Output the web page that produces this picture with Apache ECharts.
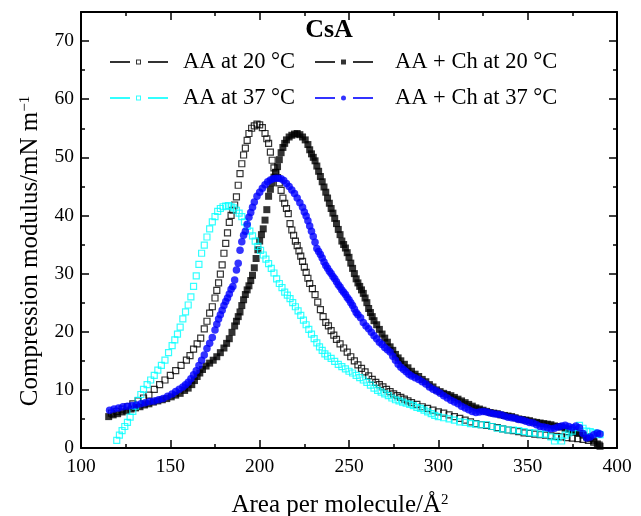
<!DOCTYPE html>
<html>
<head>
<meta charset="utf-8">
<script src="https://cdn.jsdelivr.net/npm/echarts@6/dist/echarts.min.js"></script>
<style>html,body{margin:0;padding:0;background:#fff}#c{width:641px;height:516px}</style>
</head>
<body>
<div id="c"></div>
<script>
const xTicks = [100, 150, 200, 250, 300, 350, 400];
const yTicks = [0, 10, 20, 30, 40, 50, 60, 70];
const seriesNames = ['AA at 20 °C', 'AA + Ch at 20 °C', 'AA at 37 °C', 'AA + Ch at 37 °C'];

const aa20 = [[117,6.0],[120,6.3],[123,6.7],[126,7.1],[129,7.6],[132,8.1],[135,8.6],[138,9.1],[141,10.1],[144,10.9],[147,11.7],[150,12.5],[153,13.3],[156,14.2],[159,15.1],[161,15.9],[163,17.0],[165,17.9],[167,18.9],[169,20.5],[170.5,21.8],[172,23.2],[173.5,24.3],[175,25.8],[176,27.1],[177,28.4],[178,29.9],[179,31.5],[180,33.5],[181,35.2],[182,37.0],[183,38.8],[184,40.0],[185,40.9],[186,41.8],[187,43.2],[188,45.2],[189,47.2],[190,48.9],[191,50.4],[192,51.6],[193,52.9],[194,54.1],[195.5,55.0],[197,55.4],[198.5,55.7],[200,55.6],[201.5,55.1],[203,54.1],[204,53.2],[205,52.4],[206,50.9],[207,49.5],[208,48.2],[209,47.4],[210,46.5],[211,45.6],[212,44.3],[213,43.0],[214,42.1],[215,41.2],[216,40.3],[217,38.6],[218,37.5],[219,36.6],[220,35.6],[221,34.8],[222,33.9],[223,33.0],[224,32.1],[225,31.1],[226,30.2],[227,29.2],[228,28.3],[229.5,27.4],[231,26.4],[232.5,25.1],[234,23.8],[235.5,22.6],[237,21.6],[238.5,21.0],[240,20.2],[241.5,19.4],[243,18.7],[245,17.9],[247,17.2],[249,16.5],[251,15.7],[253,15.0],[255,14.3],[257,13.7],[259,13.1],[261,12.4],[263,11.8],[265,11.3],[267,10.9],[269,10.5],[271,10.1],[273,9.7],[275,9.3],[277,9.0],[279,8.7],[281,8.4],[283,8.1],[285,7.8],[288,7.5],[291,7.1],[294,6.8],[297,6.5],[300,6.2],[303,6.0],[306,5.7],[309,5.4],[312,5.1],[315,4.8],[318,4.5],[321,4.2],[324,4.0],[327,3.9],[330,3.7],[333,3.5],[336,3.3],[339,3.1],[342,3.0],[345,2.8],[348,2.6],[351,2.5],[354,2.4],[357,2.3],[360,2.2],[363,2.1],[366,2.0],[369,1.9],[372,1.8],[375,1.7],[378,1.6],[381,1.5],[384,1.3],[387,1.0],[390,0.5]];

const aach20 = [[115.5,5.4],[118,5.7],[120.5,5.9],[123,6.2],[125.5,6.4],[128,6.7],[130.5,6.9],[133,7.1],[135.5,7.4],[138,7.6],[140.5,7.9],[143,8.1],[145.5,8.3],[148,8.5],[150.5,8.8],[153,9.1],[155.5,9.4],[158,9.9],[160,10.3],[162,10.9],[163.5,11.6],[165,12.3],[166.5,12.9],[168,13.5],[170,14.1],[172,14.6],[174,15.1],[176,15.7],[178,16.4],[180,17.2],[181.5,18.0],[183,18.8],[184.5,19.9],[186,21.0],[187,21.8],[188,22.6],[189,23.4],[190,24.5],[191,25.5],[192,26.4],[193,27.2],[194,27.9],[195,28.8],[196,29.7],[197,31.0],[198,32.6],[199,34.1],[200,35.6],[201,36.7],[202,37.7],[203,39.2],[204,41.0],[205,43.3],[206,44.5],[207,45.6],[208,46.6],[209,47.4],[210,48.4],[211,49.6],[212,50.8],[213,51.7],[214,52.4],[215,53.0],[216.5,53.5],[218,53.8],[219.5,54.0],[221,54.1],[222.5,53.9],[224,53.5],[225.5,53.0],[227,52.2],[228,51.3],[229,50.6],[230,50.0],[231,49.4],[232,48.5],[233,47.6],[234,46.7],[235,45.8],[236,44.9],[237,44.0],[238,43.0],[239,42.1],[240,41.2],[241,40.4],[242,39.5],[243,38.6],[244,37.6],[245,36.7],[246,35.6],[247,35.0],[248,34.4],[249,33.6],[250,32.8],[251,31.8],[252,30.9],[253,30.0],[254,29.1],[255,28.4],[256,27.8],[257,27.2],[258,26.6],[259,25.8],[260,25.0],[261,24.0],[262,23.3],[263,22.6],[264,21.9],[265.5,21.2],[267,20.4],[268.5,19.6],[270,18.9],[271.5,18.2],[273,17.4],[274.5,16.8],[276,16.1],[277.5,15.5],[279,15.0],[281,14.4],[283,13.8],[285,13.2],[287,12.7],[289,12.3],[291,11.8],[293,11.4],[295,10.9],[297,10.5],[299,10.0],[301,9.7],[303,9.4],[305,9.2],[307,9.0],[309,8.7],[311,8.4],[313,8.1],[315,7.8],[317,7.5],[319,7.2],[321,6.9],[323,6.7],[325,6.5],[327,6.3],[329,6.1],[331,6.0],[333,5.9],[335,5.7],[337,5.6],[339,5.5],[341,5.4],[343,5.2],[345,5.0],[347,4.9],[349,4.8],[351,4.7],[353,4.5],[355,4.4],[357,4.3],[359,4.2],[361,4.1],[363,4.0],[365,3.8],[367,3.7],[369,3.6],[371,3.4],[373,3.2],[375,3.0],[377,2.8],[379,2.5],[381,2.2],[383,1.9],[385,1.6],[387,1.2],[389,0.7],[390.5,0.3]];

const aa37 = [[120,1.3],[121.5,2.2],[123,3.0],[124.5,3.7],[126,4.4],[127.5,5.3],[129,6.3],[130.5,7.2],[132,8.2],[133.5,9.2],[135,10.1],[137,10.9],[139,11.7],[141,12.5],[143,13.4],[145,14.2],[147,15.1],[149,16.4],[151,17.6],[152.5,18.6],[154,19.6],[155.5,20.8],[157,22.2],[158.5,23.4],[160,24.6],[161.5,26.0],[163,27.8],[164.5,29.6],[166,31.6],[167.5,33.5],[169,34.9],[170.5,36.3],[172,37.7],[173.5,38.9],[175,39.8],[176.5,40.7],[178,41.2],[179.5,41.5],[181,41.6],[182.5,41.7],[184,41.5],[185.5,41.3],[187,40.9],[188.5,40.4],[190,39.8],[191.5,38.9],[193,38.1],[194.5,37.3],[196,36.5],[197.5,35.6],[199,34.7],[200.5,34.0],[202,33.2],[203.5,32.5],[205,31.7],[206.5,30.9],[208,30.1],[209.5,29.1],[211,28.3],[212.5,27.6],[214,26.8],[215.5,26.3],[217,25.7],[218.5,25.0],[220,24.3],[221.5,23.6],[223,22.8],[224.5,22.0],[226,21.2],[227.5,20.4],[229,19.6],[230.5,18.8],[232,18.1],[233.5,17.4],[235,16.8],[236.5,16.2],[238,15.8],[240,15.4],[242,14.9],[244,14.4],[246,14.0],[248,13.6],[250,13.2],[252,12.9],[254,12.5],[256,12.1],[258,11.7],[260,11.3],[262,10.8],[264,10.3],[266,9.9],[268,9.6],[270,9.3],[272,9.0],[274,8.6],[276,8.3],[278,8.1],[280,7.9],[282,7.7],[284,7.5],[286,7.3],[288,7.0],[290,6.8],[292,6.5],[294,6.2],[296,5.9],[298,5.6],[300,5.4],[303,5.2],[306,5.0],[309,4.8],[312,4.5],[315,4.4],[318,4.2],[321,4.1],[324,4.0],[327,4.0],[330,3.7],[333,3.4],[336,3.3],[339,3.1],[342,3.1],[345,3.0],[348,2.8],[351,2.6],[354,2.6],[357,2.4],[360,2.4],[363,1.9],[365,1.2],[367,1.8],[369,1.2],[371,2.2],[373,2.6],[375,2.9],[377,3.5],[379,3.9],[381,3.4],[383,2.9],[385,2.8],[387,2.6],[389,2.5],[390.5,2.3]];

const aach37 = [[116,6.5],[118.5,6.7],[121,6.9],[123.5,7.1],[126,7.2],[128.5,7.3],[131,7.4],[133.5,7.6],[136,7.8],[138.5,8.0],[141,8.1],[143.5,8.3],[146,8.5],[148.5,8.9],[151,9.3],[153,9.7],[155,10.1],[157,10.5],[158.5,10.9],[160,11.3],[161.5,11.9],[163,12.6],[164.5,13.3],[166,14.2],[167.5,15.1],[169,16.0],[170.5,17.1],[172,18.0],[173.5,19.0],[175,20.3],[176,21.3],[177,22.2],[178,22.9],[179,23.7],[180,24.5],[181,25.2],[182,25.8],[183,26.5],[184,27.3],[185,27.8],[186,28.9],[187,30.6],[188,31.8],[189,34.0],[190,35.5],[191,36.6],[192,37.3],[193,38.5],[194,39.7],[195,40.5],[196,41.4],[197,42.3],[198.5,43.3],[200,44.0],[201.5,44.7],[203,45.3],[204.5,45.8],[206,46.1],[207.5,46.3],[209,46.4],[210.5,46.4],[212,46.3],[213.5,46.0],[215,45.5],[216.5,45.0],[218,44.4],[219.5,43.8],[221,43.0],[222.5,42.2],[224,41.4],[225,40.6],[226,39.9],[227,39.1],[228,38.2],[229,37.3],[230,36.4],[231,35.4],[232,34.3],[233,33.8],[234,33.3],[235,32.7],[236,32.0],[237,31.4],[238,30.9],[239,30.4],[240,30.0],[241,29.5],[242,29.1],[243,28.6],[244,28.1],[245,27.7],[246,27.2],[247,26.8],[248,26.4],[249,25.9],[250,25.5],[251,25.0],[252,24.5],[253,23.9],[254,23.3],[255,22.9],[256.5,22.4],[258,21.6],[259.5,21.0],[261,20.5],[262.5,19.9],[264,19.3],[265.5,18.8],[267,18.2],[268.5,17.8],[270,17.3],[271.5,16.9],[273,16.5],[274.5,15.8],[276,15.1],[277.5,14.4],[279,13.9],[280.5,13.5],[282,13.1],[283.5,12.7],[285,12.4],[287,12.1],[289,11.8],[291,11.4],[293,11.0],[295,10.5],[297,10.1],[299,9.8],[301,9.4],[303,9.0],[305,8.6],[307,8.2],[309,7.9],[311,7.6],[313,7.2],[315,6.9],[317,6.6],[319,6.3],[321,6.1],[323,6.2],[325,6.3],[327,6.2],[329,6.0],[331,5.9],[333,5.8],[335,5.7],[337,5.5],[339,5.3],[341,5.2],[343,5.1],[345,4.9],[347,4.8],[349,4.6],[351,4.4],[353,4.3],[355,4.0],[357,3.7],[359,3.6],[361,3.5],[363,3.3],[365,3.4],[367,3.6],[369,3.8],[371,3.9],[373,3.7],[375,3.5],[377,3.8],[379,3.5],[381,2.5],[383,1.7],[385,1.9],[387,2.3],[389,2.6],[390.5,2.4]];

const FONT = 'Liberation Serif';
function icons(ext) {
  const base = 'path://M0 3H20V5H0Z M38 3H58V5H38Z ';
  const tail = ' M' + ext + ' 4L' + ext + ' 4Z';
  return {
    open: base + 'M26 1.5H31V6.5H26Z M27 2.5V5.5H30V2.5Z' + tail,
    filled: base + 'M26 1.5H31V6.5H26Z' + tail,
    circle: base + 'M26 4A2.5 2.5 0 1 0 31 4A2.5 2.5 0 1 0 26 4Z' + tail
  };
}
const ic1 = icons(68), ic2 = icons(75);

const chart = echarts.init(document.getElementById('c'), null, {renderer: 'canvas'});

function legendCfg(left, w, items) {
  return {
    left: left, top: 50, orient: 'vertical', itemGap: 12, padding: 0,
    itemWidth: w, itemHeight: 5, selectedMode: false,
    textStyle: {fontFamily: FONT, fontSize: 22.5, color: '#000', lineHeight: 24},
    data: items
  };
}

const axisCommon = {
  type: 'value', min: 100, max: 400, interval: 50,
  axisLine: {show: true, onZero: false, lineStyle: {color: '#000', width: 2}},
  axisTick: {show: true, inside: true, length: 8, lineStyle: {color: '#000', width: 1.5}},
  minorTick: {show: true, splitNumber: 2, length: 4, lineStyle: {color: '#000', width: 1.5}},
  splitLine: {show: false}
};
const yCommon = {
  type: 'value', min: 0, max: 75, interval: 10,
  axisLine: {show: true, onZero: false, lineStyle: {color: '#000', width: 2}},
  axisTick: {show: true, inside: true, length: 8, lineStyle: {color: '#000', width: 1.5}},
  minorTick: {show: true, splitNumber: 2, length: 4, lineStyle: {color: '#000', width: 1.5}},
  splitLine: {show: false}
};

chart.setOption({
  animation: false,
  backgroundColor: '#fff',
  title: {text: 'CsA', left: 324, top: 12, textAlign: 'center',
    textStyle: {fontFamily: FONT, fontSize: 26, fontWeight: 'bold', color: '#000'}},
  legend: [
    legendCfg(110, 68, [
      {name: seriesNames[0], icon: ic1.open, itemStyle: {color: '#000', borderWidth: 0}},
      {name: seriesNames[2], icon: ic1.open, itemStyle: {color: '#00ffff', borderWidth: 0}}
    ]),
    legendCfg(315, 75, [
      {name: seriesNames[1], icon: ic2.filled, itemStyle: {color: '#000', borderWidth: 0}},
      {name: seriesNames[3], icon: ic2.circle, itemStyle: {color: '#0000ff', borderWidth: 0}}
    ])
  ],
  grid: {left: 81, right: 24, top: 12, bottom: 68, containLabel: false},
  xAxis: [
    Object.assign({}, axisCommon, {position: 'bottom',
      axisLabel: {show: true, margin: 9, fontFamily: FONT, fontSize: 19.5, color: '#000',
        customValues: xTicks}}),
    Object.assign({}, axisCommon, {position: 'top', axisLabel: {show: false}})
  ],
  yAxis: [
    Object.assign({}, yCommon, {position: 'left',
      axisLabel: {show: true, margin: 7, fontFamily: FONT, fontSize: 19.5, color: '#000',
        customValues: yTicks}}),
    Object.assign({}, yCommon, {position: 'right', axisLabel: {show: false}})
  ],
  graphic: [
    {type: 'text', x: 30, y: 251, rotation: Math.PI / 2,
      style: {text: 'Compression modulus/mN m{sup|−1}', fontFamily: FONT, fontSize: 25, fill: '#000',
        align: 'center', verticalAlign: 'middle',
        rich: {sup: {fontFamily: FONT, fontSize: 15, verticalAlign: 'top', fill: '#000'}}}},
    {type: 'text', x: 340, y: 505,
      style: {text: 'Area per molecule/Å{sup|2}', fontFamily: FONT, fontSize: 25, fill: '#000',
        align: 'center', verticalAlign: 'middle',
        rich: {sup: {fontFamily: FONT, fontSize: 15, verticalAlign: 'top', fill: '#000'}}}}
  ],
  series: [
    {name: seriesNames[0], type: 'scatter', data: aa20, symbol: 'rect', symbolSize: 6,
      itemStyle: {color: 'rgba(0,0,0,0)', borderColor: '#000', borderWidth: 1.2}},
    {name: seriesNames[1], type: 'scatter', data: aach20, symbol: 'rect', symbolSize: 7,
      itemStyle: {color: '#000'}},
    {name: seriesNames[2], type: 'scatter', data: aa37, symbol: 'rect', symbolSize: 6,
      itemStyle: {color: 'rgba(0,0,0,0)', borderColor: '#00ffff', borderWidth: 1.2}},
    {name: seriesNames[3], type: 'scatter', data: aach37, symbol: 'circle', symbolSize: 7.5,
      itemStyle: {color: '#0000ff'}}
  ]
});
</script>
</body>
</html>
